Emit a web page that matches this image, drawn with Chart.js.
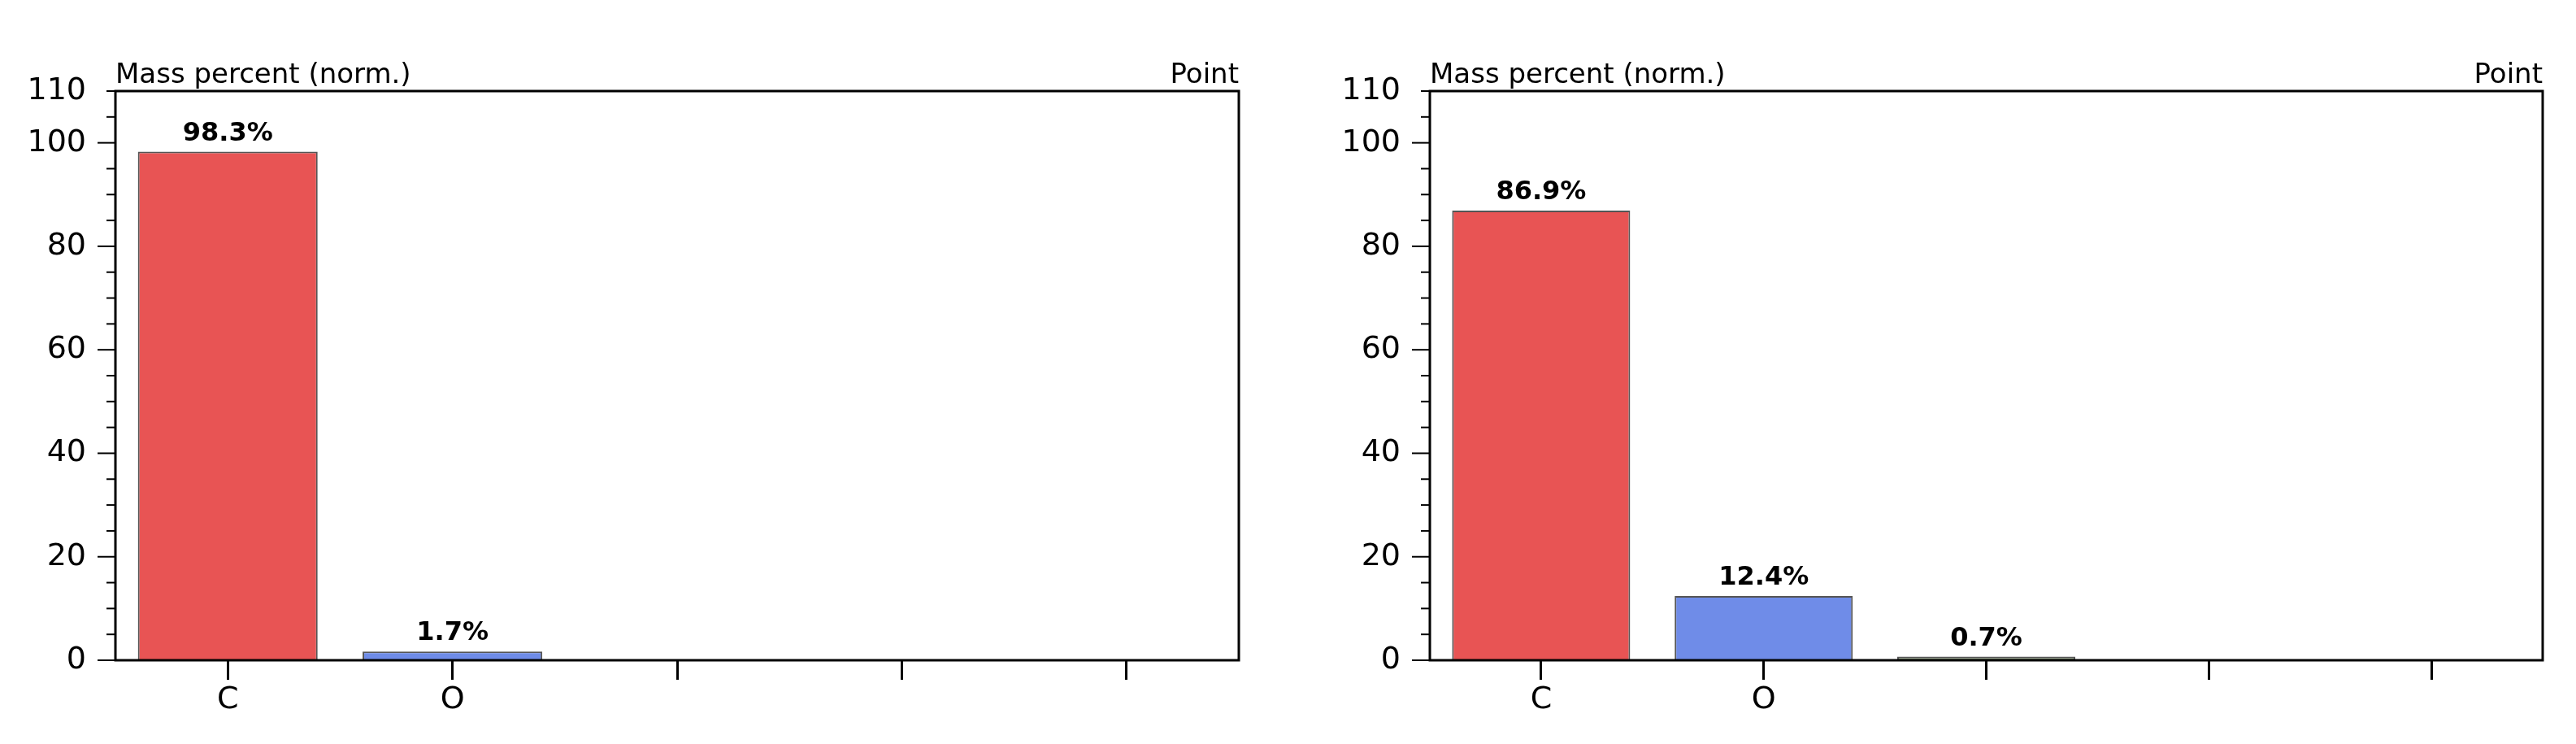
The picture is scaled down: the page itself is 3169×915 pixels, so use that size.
<!DOCTYPE html>
<html>
<head>
<script src="https://cdn.jsdelivr.net/npm/chart.js@4"></script>
<style>
body{margin:0;background:#fff;width:3169px;height:915px;overflow:hidden}
.box{position:absolute;top:0;height:915px;width:1560px}
</style>
</head>
<body>
<div class="box" style="left:0"><canvas id="c1"></canvas></div>
<div class="box" style="left:1600px"><canvas id="c2"></canvas></div>
<script>
var slots = ['C', 'O', '', '', ''];
var values1 = [98.3, 1.7, null, null, null];
var values2 = [86.9, 12.4, 0.7, null, null];
var colors = ['#E85454', '#6F8CE8', '#7A8A6A', '#fff', '#fff'];
var yTitle = 'Mass percent (norm.)';
var cornerTitle = 'Point';

var font = 'DejaVu Sans, Verdana, sans-serif';

var deco = {
    id: 'deco',
    afterDatasetsDraw: function (chart) {
        var ctx = chart.ctx, a = chart.chartArea, y = chart.scales.y;
        ctx.save();
        ctx.strokeStyle = '#000';
        ctx.lineWidth = 3;
        ctx.strokeRect(a.left, a.top, a.right - a.left, a.bottom - a.top);
        // y ticks
        ctx.lineWidth = 2;
        for (var v = 0; v <= 110; v += 5) {
            var py = y.getPixelForValue(v);
            var len = v % 20 == 0 ? 22 : 11;
            ctx.beginPath(); ctx.moveTo(a.left - len, py); ctx.lineTo(a.left, py); ctx.stroke();
        }
        // titles
        ctx.fillStyle = '#000';
        ctx.font = '34px ' + font;
        ctx.textBaseline = 'bottom';
        ctx.textAlign = 'left';
        ctx.fillText(yTitle, a.left, a.top - 2);
        ctx.textAlign = 'right';
        ctx.fillText(cornerTitle, a.right, a.top - 2);
        // value labels
        ctx.font = 'bold 32px ' + font;
        ctx.textAlign = 'center';
        var meta = chart.getDatasetMeta(0);
        chart.data.datasets[0].data.forEach(function (d, i) {
            if (d == null) return;
            var el = meta.data[i];
            ctx.fillText(d.toFixed(1) + '%', el.x, el.y - 6);
        });
        ctx.restore();
    }
};

function makeChart(id, values, yWidth, rightPad) {
    return new Chart(document.getElementById(id), {
        type: 'bar',
        data: {
            labels: slots,
            datasets: [{
                data: values,
                backgroundColor: colors,
                borderColor: '#555',
                borderWidth: 2,
                categoryPercentage: 0.8,
                barPercentage: 1
            }]
        },
        options: {
            responsive: true,
            maintainAspectRatio: false,
            animation: false,
            events: [],
            layout: { padding: { top: 112, right: rightPad, left: 0, bottom: 0 } },
            plugins: { legend: { display: false }, tooltip: { enabled: false } },
            scales: {
                x: {
                    afterFit: function (s) { s.height = 103; },
                    grid: { offset: false, drawOnChartArea: false, tickLength: 24, tickWidth: 3, color: '#000' },
                    border: { display: false },
                    ticks: { color: '#000', font: { family: font, size: 38 }, padding: 2 }
                },
                y: {
                    min: 0, max: 110,
                    afterFit: function (s) { s.width = yWidth; },
                    grid: { display: false },
                    border: { display: false },
                    ticks: { stepSize: 20, color: '#000', font: { family: font, size: 38 }, padding: 28 }
                }
            }
        },
        plugins: [deco]
    });
}

makeChart('c1', values1, 142, 36);
makeChart('c2', values2, 159, 32);
</script>
</body>
</html>
